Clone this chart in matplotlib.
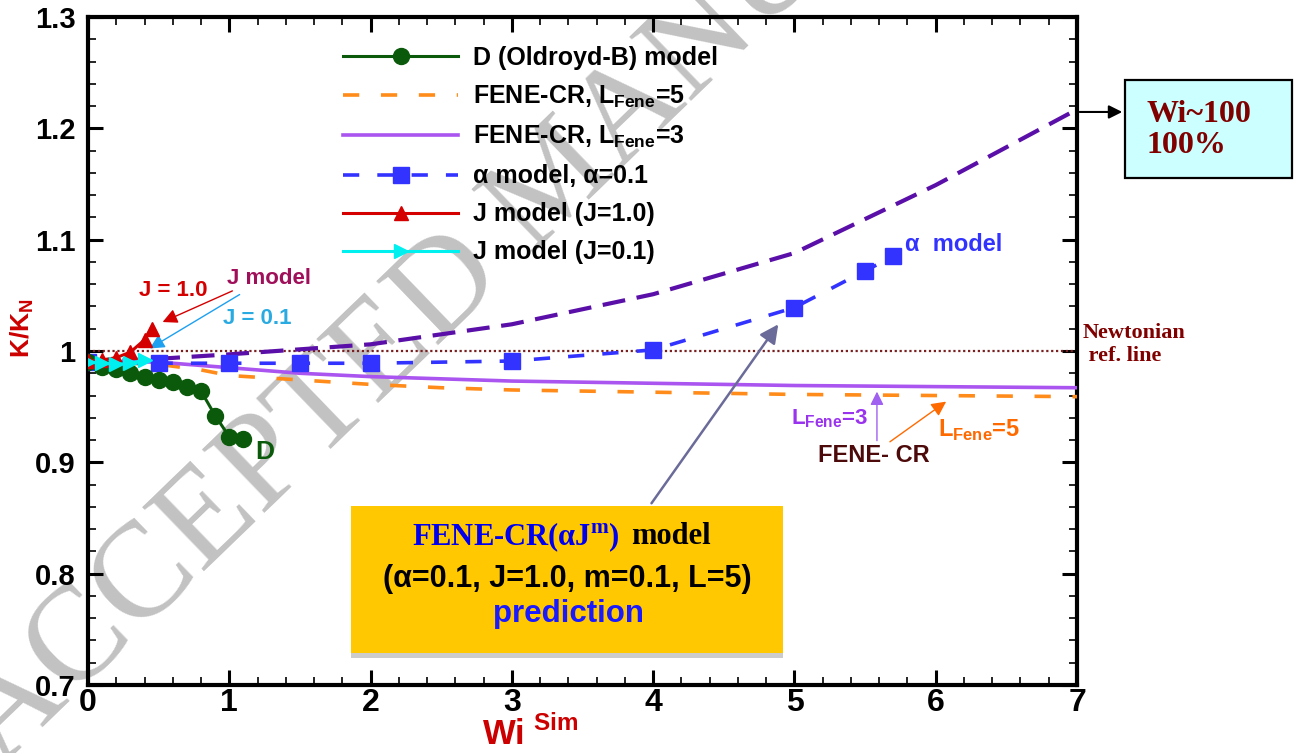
import matplotlib
matplotlib.use("Agg")
import matplotlib.pyplot as plt
from matplotlib.patches import Rectangle
from matplotlib.ticker import AutoMinorLocator

# Oldroyd-B (D) model
d_wi = [0.0, 0.1, 0.2, 0.3, 0.4, 0.5, 0.6, 0.7, 0.8, 0.9, 1.0, 1.1]
d_k = [0.990, 0.986, 0.984, 0.980, 0.977, 0.974, 0.972, 0.968, 0.964, 0.942, 0.923, 0.921]

# FENE-CR, L=5
fene5_wi = [0.0, 0.5, 0.8, 1.0, 1.5, 2.0, 2.5, 3.0, 4.0, 5.0, 6.0, 7.0]
fene5_k = [0.990, 0.988, 0.983, 0.978, 0.974, 0.970, 0.967, 0.965, 0.963, 0.961, 0.960, 0.959]

# FENE-CR, L=3
fene3_wi = [0.0, 0.5, 1.0, 1.5, 2.0, 3.0, 4.0, 5.0, 6.0, 7.0]
fene3_k = [0.991, 0.990, 0.985, 0.980, 0.977, 0.973, 0.971, 0.969, 0.968, 0.967]

# alpha model, alpha=0.1
alpha_wi = [0.0, 0.5, 1.0, 1.5, 2.0, 3.0, 4.0, 5.0, 5.5, 5.7]
alpha_k = [0.990, 0.989, 0.989, 0.989, 0.989, 0.991, 1.001, 1.039, 1.072, 1.085]

# J model
j10_wi = [0.0, 0.1, 0.2, 0.3, 0.4, 0.45]
j10_k = [0.991, 0.992, 0.994, 0.999, 1.010, 1.020]
j01_wi = [0.0, 0.1, 0.2, 0.3, 0.4]
j01_k = [0.990, 0.989, 0.988, 0.989, 0.992]

# FENE-CR(alpha J^m) prediction
pred_wi = [0.0, 0.5, 1.0, 2.0, 3.0, 4.0, 5.0, 6.0, 7.0]
pred_k = [0.990, 0.993, 0.997, 1.006, 1.024, 1.051, 1.088, 1.149, 1.217]

newt_wi = [0.0, 7.0]
newt_k = [1.0, 1.0]

x_ticks = [0, 1, 2, 3, 4, 5, 6, 7]
y_ticks = [0.7, 0.8, 0.9, 1.0, 1.1, 1.2, 1.3]
y_ticklabels = ["0.7", "0.8", "0.9", "1", "1.1", "1.2", "1.3"]

SANS = ["Liberation Sans", "DejaVu Sans"]
SERIF = ["Liberation Serif", "DejaVu Serif"]

plt.rcParams["font.family"] = SANS
plt.rcParams["font.weight"] = "bold"

fig = plt.figure(figsize=(13.06, 7.53), dpi=100)
ax = fig.add_axes([88 / 1306, 1 - 685 / 753, 989 / 1306, 668 / 753])
ax.set_facecolor("none")

# watermark behind the axes
fig.text(0.0, -0.02, "ACCEPTED MANUSCRIPT", rotation=44, rotation_mode="anchor",
         ha="left", va="baseline", fontsize=98, color="#c2c2c2", family=SERIF,
         fontweight="normal", zorder=-5)

ax.plot(newt_wi, newt_k, color="#7a1f1f", lw=1.6, ls=(0, (1, 1.2)), zorder=2)
ax.plot(pred_wi, pred_k, color="#5a0fa8", lw=3.0, dashes=(5.5, 2.8), zorder=3)
l_d, = ax.plot(d_wi, d_k, color="#0b5a0b", lw=2.2, marker="o", ms=11.5,
               label="D (Oldroyd-B) model", zorder=5)
l_f5, = ax.plot(fene5_wi, fene5_k, color="#ff8c1a", lw=2.6, dashes=(4.5, 6),
                label=r"FENE-CR, L$_\mathregular{Fene}$=5", zorder=3)
l_f3, = ax.plot(fene3_wi, fene3_k, color="#aa55f0", lw=2.6,
                label=r"FENE-CR, L$_\mathregular{Fene}$=3", zorder=3)
l_a, = ax.plot(alpha_wi, alpha_k, color="#3333ff", lw=2.6, dashes=(4.5, 5),
               marker="s", ms=11.5, label="α model, α=0.1", zorder=4)
l_j1, = ax.plot(j10_wi, j10_k, color="#d40000", lw=2.2, marker="^", ms=10.5,
                label="J model (J=1.0)", zorder=6)
l_j01, = ax.plot(j01_wi, j01_k, color="#00f0f0", lw=2.2, marker=">", ms=10.5,
                 label="J model (J=0.1)", zorder=7)

ax.set_xlim(0, 7)
ax.set_ylim(0.7, 1.3)
ax.set_xticks(x_ticks)
ax.set_xticklabels([str(v) for v in x_ticks], fontsize=23, fontweight="bold")
ax.set_yticks(y_ticks)
ax.set_yticklabels(y_ticklabels, fontsize=21, fontweight="bold")
ax.xaxis.set_minor_locator(AutoMinorLocator(5))
ax.yaxis.set_minor_locator(AutoMinorLocator(5))
ax.tick_params(which="both", direction="in", top=True, right=True, color="black")
ax.tick_params(which="major", length=11, width=2.2)
ax.tick_params(which="minor", length=6, width=1.2)
ax.tick_params(axis="y", pad=9)
ax.tick_params(axis="x", pad=2)
for sp in ax.spines.values():
    sp.set_linewidth(3)

fig.text(22 / 1306, 1 - 328 / 753, r"K/K$_\mathregular{N}$", rotation=90, color="#cc0000",
         fontsize=19, fontweight="bold", ha="center", va="center")
fig.text(530 / 1306, 1 - 745 / 753, r"Wi$^\mathregular{\ Sim}$", color="#cc0000",
         fontsize=25, fontweight="bold", ha="center", va="baseline")

leg = ax.legend(handles=[l_d, l_f5, l_f3, l_a, l_j1, l_j01], loc="upper left",
                bbox_to_anchor=(343 / 1306, 1 - 46 / 753), bbox_transform=fig.transFigure,
                frameon=False, fontsize=18, handlelength=4.6, handletextpad=0.6,
                labelspacing=0.56, borderpad=0, borderaxespad=0, numpoints=1)
for t in leg.get_texts():
    t.set_fontweight("bold")

# J model labels
ax.text(0.6, 1.054, "J = 1.0", color="#d40000", fontsize=16, ha="center", va="center")
ax.text(1.28, 1.065, "J model", color="#a0105a", fontsize=16, ha="center", va="center")
ax.text(1.2, 1.029, "J = 0.1", color="#29aae1", fontsize=16, ha="center", va="center")
ax.annotate("", xy=(0.51, 1.025), xytext=(1.04, 1.055),
            arrowprops=dict(arrowstyle="-|>", color="#d40000", lw=1.0, mutation_scale=22))
ax.annotate("", xy=(0.42, 1.001), xytext=(1.09, 1.052),
            arrowprops=dict(arrowstyle="-|>", color="#1ea0f0", lw=1.0, mutation_scale=22))
ax.text(1.25, 0.909, "D", color="#0b5a0b", fontsize=19, ha="center", va="center")
ax.text(5.78, 1.096, "α  model", color="#3333ff", fontsize=17, ha="left", va="center")

# FENE-CR labels
ax.text(5.25, 0.939, r"L$_\mathregular{Fene}$=3", color="#9933ee", fontsize=16,
        ha="center", va="center")
ax.text(6.31, 0.929, r"L$_\mathregular{Fene}$=5", color="#ff6a00", fontsize=17,
        ha="center", va="center")
ax.text(5.56, 0.906, "FENE- CR", color="#4d0a0a", fontsize=17, ha="center", va="center")
ax.annotate("", xy=(5.584, 0.966), xytext=(5.584, 0.917),
            arrowprops=dict(arrowstyle="-|>", color="#a060f0", lw=1.0, mutation_scale=20))
ax.annotate("", xy=(6.09, 0.956), xytext=(5.66, 0.917),
            arrowprops=dict(arrowstyle="-|>", color="#ff6a00", lw=1.0, mutation_scale=22))

# Newtonian reference note
ax.text(7.04, 1.006, "Newtonian\n ref. line", color="#800000", fontsize=16, family=SERIF,
        fontweight="bold", ha="left", va="center", linespacing=1.2, clip_on=False)

# Wi~100 box
ax.annotate("", xy=(7.34, 1.2147), xytext=(7.0, 1.2147), annotation_clip=False,
            arrowprops=dict(arrowstyle="-|>", color="black", lw=1.5, mutation_scale=20))
ax.add_patch(Rectangle((7.339, 1.1553), 1.182, 0.0881, facecolor="#ccffff",
                       edgecolor="black", lw=1.6, clip_on=False, zorder=5))
ax.text(7.495, 1.1985, "Wi~100\n100%", color="#800000", fontsize=23, family=SERIF,
        fontweight="bold", ha="left", va="center", linespacing=1.1, clip_on=False, zorder=6)

# prediction box
ax.add_patch(Rectangle((1.861, 0.7245), 3.058, 0.0045, facecolor="#cccccc",
                       edgecolor="none", zorder=7))
ax.add_patch(Rectangle((1.861, 0.7290), 3.058, 0.1322, facecolor="#ffc800",
                       edgecolor="none", zorder=7))
ax.text(3.765, 0.833, r"FENE-CR(αJ$^\mathregular{m}$)", color="#0000ee", fontsize=22,
        family=SERIF, fontweight="bold", ha="right", va="center", zorder=8)
ax.text(3.843, 0.833, "model", color="black", fontsize=22, family=SERIF,
        fontweight="bold", ha="left", va="center", zorder=8)
ax.text(3.39, 0.7955, "(α=0.1, J=1.0, m=0.1, L=5)", color="black", fontsize=22,
        ha="center", va="center", zorder=8)
ax.text(3.40, 0.764, "prediction", color="#1a1aff", fontsize=22.5,
        ha="center", va="center", zorder=8)
ax.annotate("", xy=(4.897, 1.026), xytext=(3.977, 0.8612),
            arrowprops=dict(arrowstyle="-|>", color="#6b6b9a", lw=1.8, mutation_scale=28),
            zorder=8)

fig.savefig("out.png", dpi=100)
